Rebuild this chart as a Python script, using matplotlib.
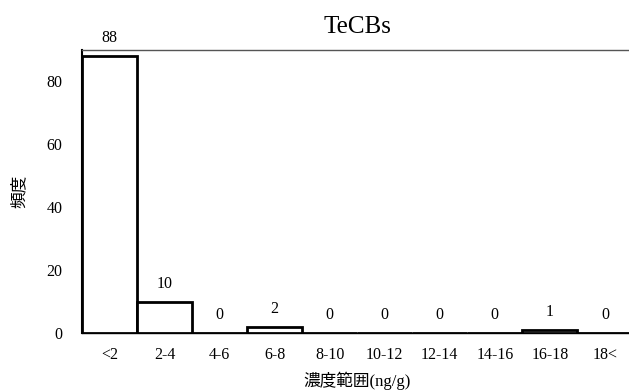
import matplotlib
matplotlib.use("Agg")
import matplotlib.pyplot as plt

categories = ["<2", "2-4", "4-6", "6-8", "8-10", "10-12", "12-14", "14-16", "16-18", "18<"]
counts = [88, 10, 0, 2, 0, 0, 0, 0, 1, 0]
yticks = [0, 20, 40, 60, 80]

serif = ["Liberation Serif", "Noto Sans CJK JP"]
cjk = ["Noto Sans CJK JP", "Liberation Serif"]

fig = plt.figure(figsize=(6.29, 3.90), dpi=100)
ax = fig.add_axes([0.1304, 0.146, 0.875, 0.726])

x = list(range(len(categories)))
ax.bar(x, counts, width=1.0, facecolor="white", edgecolor="black", linewidth=2.0, zorder=3)
for xi, c in zip(x, counts):
    ax.annotate(str(c), (xi, c), xytext=(0, 7), textcoords="offset points",
                ha="center", va="bottom", fontsize=11.5, family=serif)

ax.set_xlim(-0.5, len(categories) - 0.5)
ax.set_ylim(0, 90)
ax.set_yticks(yticks)
ax.set_xticks(x)
ax.set_xticklabels(categories, family=serif, fontsize=11.5)
ax.set_yticklabels([str(v) for v in yticks], family=serif, fontsize=11.5)
ax.tick_params(axis="both", length=0)
ax.tick_params(axis="y", pad=14)
ax.tick_params(axis="x", pad=10)

for s in ax.spines.values():
    s.set_linewidth(1.0)
ax.spines["top"].set_color("#555555")
ax.spines["left"].set_linewidth(1.5)

ax.set_title("TeCBs", family=serif, fontsize=18, pad=12)
ax.set_xlabel("濃度範囲(ng/g)", family=serif, fontsize=12, labelpad=6)
ax.set_ylabel("頻度", family=cjk, fontsize=12, labelpad=14)

fig.savefig("out.png", dpi=100)
